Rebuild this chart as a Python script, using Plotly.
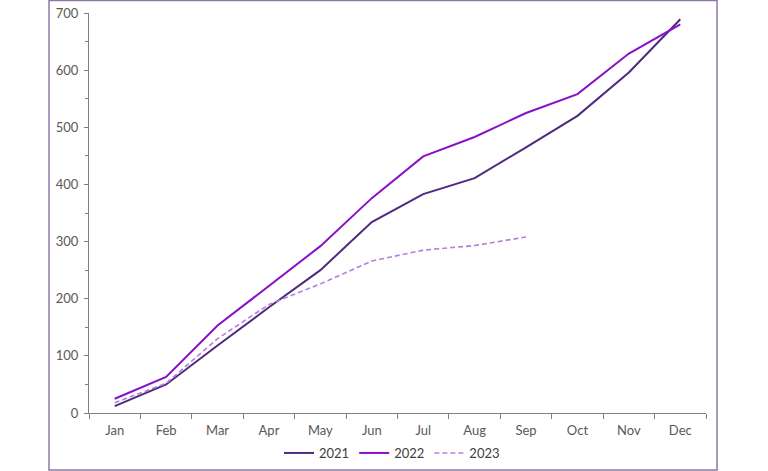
import plotly.graph_objects as go

months = ["Jan", "Feb", "Mar", "Apr", "May", "Jun", "Jul", "Aug", "Sep", "Oct", "Nov", "Dec"]
s2021 = [12, 50, 118, 185, 250, 334, 383, 411, 465, 520, 596, 689]
s2022 = [25, 63, 153, 222, 292, 376, 449, 483, 525, 558, 629, 680]
s2023 = [18, 52, 130, 190, 226, 266, 285, 293, 308]
y_ticks = [0, 100, 200, 300, 400, 500, 600, 700]

fig = go.Figure()
fig.add_trace(go.Scatter(x=months, y=s2021, name="2021", mode="lines",
                         line=dict(color="#4E2A7E", width=2)))
fig.add_trace(go.Scatter(x=months, y=s2022, name="2022", mode="lines",
                         line=dict(color="#8A10C8", width=2)))
fig.add_trace(go.Scatter(x=months[:len(s2023)], y=s2023, name="2023", mode="lines",
                         line=dict(color="#B27FDC", width=1.6, dash="5px,3px")))

W, H = 768, 471
l, r, t, b = 89, 62, 13, 58
pw, ph = W - l - r, H - t - b

def px_x(p):
    return (p - l) / pw

def px_y(p):
    return (H - b - p) / ph

fig.add_shape(type="rect", xref="paper", yref="paper",
              x0=px_x(49), x1=px_x(717), y0=px_y(470), y1=px_y(0.5),
              line=dict(color="#8C78A8", width=1.5), fillcolor="rgba(0,0,0,0)", layer="below")

fig.update_layout(
    width=W, height=H,
    margin=dict(l=l, r=r, t=t, b=b, autoexpand=False),
    plot_bgcolor="white", paper_bgcolor="white",
    font=dict(family="Lato, Open Sans, sans-serif", size=13, color="#595959"),
    showlegend=True,
    legend=dict(orientation="h", x=px_x(392), xanchor="center", y=px_y(453), yanchor="middle",
                font=dict(size=13, color="#404040"), tracegroupgap=0,
                bgcolor="rgba(0,0,0,0)"),
    xaxis=dict(type="category", showgrid=False, showline=True, linecolor="#808080", linewidth=1,
               ticks="outside", tickson="boundaries", ticklen=5, tickcolor="#808080",
               ticklabelstandoff=5,
               range=[-0.5, 11.5], tickfont=dict(size=13, color="#595959"), zeroline=False),
    yaxis=dict(range=[0, 700], tickvals=y_ticks, showgrid=False, showline=True,
               linecolor="#808080", linewidth=1, ticks="outside", ticklen=4, tickcolor="#808080",
               ticklabelstandoff=3,
               minor=dict(dtick=50, ticks="outside", ticklen=3, tickcolor="#808080"),
               tickfont=dict(size=13, color="#595959"), zeroline=False),
)

fig.write_html("out.html", config={"displayModeBar": False},
               post_script="document.body.style.margin='0';document.body.style.overflow='hidden';")
